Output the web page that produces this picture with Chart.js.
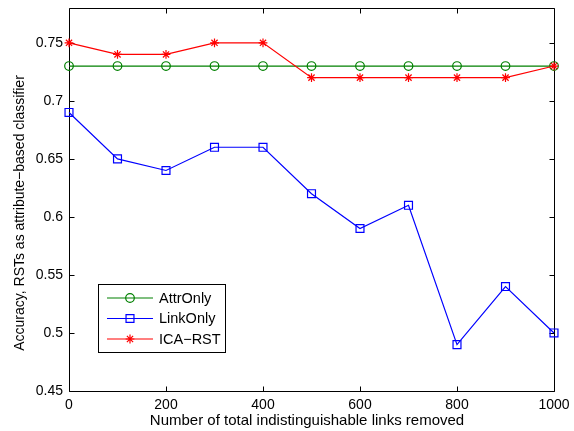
<!DOCTYPE html>
<html>
<head>
<meta charset="utf-8">
<script src="https://cdn.jsdelivr.net/npm/chart.js@4.4.1/dist/chart.umd.min.js"></script>
<style>
html, body { margin: 0; padding: 0; background: #fff; }
canvas { display: block; }
</style>
</head>
<body>
<canvas id="chart" width="574" height="431"></canvas>
<script>
// Data
const xVals = [0, 100, 200, 300, 400, 500, 600, 700, 800, 900, 1000];
const attrOnly = [0.73, 0.73, 0.73, 0.73, 0.73, 0.73, 0.73, 0.73, 0.73, 0.73, 0.73];
const linkOnly = [0.69, 0.65, 0.64, 0.66, 0.66, 0.62, 0.59, 0.61, 0.49, 0.54, 0.50];
const icaRst = [0.75, 0.74, 0.74, 0.75, 0.75, 0.72, 0.72, 0.72, 0.72, 0.72, 0.73];
const seriesNames = ['AttrOnly', 'LinkOnly', 'ICA\u2212RST'];
const xTicks = [0, 200, 400, 600, 800, 1000];
const yTicks = [0.45, 0.5, 0.55, 0.6, 0.65, 0.7, 0.75];
const xTitle = 'Number of total indistinguishable links removed';
const yTitle = 'Accuracy, RSTs as attribute\u2212based classifier';

const FONT = 'Liberation Sans, Arial, Helvetica, sans-serif';

function toPoints(vals) {
    return vals.map((v, i) => ({ x: xVals[i], y: v }));
}

function makeSeries(label, vals, color, style, radius, order) {
    return {
        label: label,
        data: toPoints(vals),
        borderColor: color,
        backgroundColor: color,
        borderWidth: 1.2,
        pointStyle: style,
        pointRadius: radius,
        pointBorderWidth: 1.2,
        pointBackgroundColor: 'rgba(0,0,0,0)',
        pointBorderColor: color,
        tension: 0,
        fill: false,
        clip: false,
        order: order
    };
}

// Box around the plot with inward tick marks on all four sides
const framePlugin = {
    id: 'frame',
    beforeDatasetsDraw(chart) {
        const { ctx, chartArea: a, scales } = chart;
        const L = Math.round(a.left) + 0.5, R = Math.round(a.right) + 0.5;
        const T = Math.round(a.top) + 0.5, B = Math.round(a.bottom) + 0.5;
        const len = 5;
        ctx.save();
        ctx.strokeStyle = '#000';
        ctx.lineWidth = 1;
        ctx.beginPath();
        ctx.rect(L, T, R - L, B - T);
        xTicks.forEach(v => {
            const px = Math.round(scales.x.getPixelForValue(v)) + 0.5;
            ctx.moveTo(px, B); ctx.lineTo(px, B - len);
            ctx.moveTo(px, T); ctx.lineTo(px, T + len);
        });
        yTicks.forEach(v => {
            const py = Math.round(scales.y.getPixelForValue(v)) + 0.5;
            ctx.moveTo(L, py); ctx.lineTo(L + len, py);
            ctx.moveTo(R, py); ctx.lineTo(R - len, py);
        });
        ctx.stroke();
        ctx.restore();
    }
};

// Axis titles
const titlePlugin = {
    id: 'titles',
    afterDraw(chart) {
        const ctx = chart.ctx;
        ctx.save();
        ctx.fillStyle = '#000';
        ctx.textAlign = 'center';
        ctx.textBaseline = 'middle';
        ctx.font = '15px ' + FONT;
        ctx.fillText(xTitle, 307, 421);
        ctx.font = '14px ' + FONT;
        ctx.translate(20, 213);
        ctx.rotate(-Math.PI / 2);
        ctx.fillText(yTitle, 0, 0);
        ctx.restore();
    }
};

// Legend box inside the lower-left of the plot
const legendPlugin = {
    id: 'boxLegend',
    afterDraw(chart) {
        const ctx = chart.ctx;
        const ds = chart.data.datasets;
        ctx.save();
        ctx.fillStyle = '#fff';
        ctx.strokeStyle = '#000';
        ctx.lineWidth = 1;
        ctx.fillRect(98.5, 284.5, 127, 68);
        ctx.strokeRect(98.5, 284.5, 127, 68);
        const rows = [298, 318.5, 339];
        ds.forEach((d, i) => {
            const y = rows[i];
            ctx.strokeStyle = d.borderColor;
            ctx.lineWidth = 1.2;
            ctx.beginPath();
            ctx.moveTo(107, y);
            ctx.lineTo(153, y);
            ctx.stroke();
            ctx.fillStyle = 'rgba(0,0,0,0)';
            Chart.helpers.drawPoint(ctx, {
                pointStyle: d.pointStyle,
                radius: d.pointRadius,
                rotation: 0,
                borderWidth: 1.2
            }, 130, y);
            ctx.fillStyle = '#000';
            ctx.font = '14.5px ' + FONT;
            ctx.textAlign = 'left';
            ctx.textBaseline = 'middle';
            ctx.fillText(d.label, 159, y + 0.5);
        });
        ctx.restore();
    }
};

new Chart(document.getElementById('chart'), {
    type: 'line',
    data: {
        datasets: [
            makeSeries(seriesNames[0], attrOnly, '#008000', 'circle', 4.3, 3),
            makeSeries(seriesNames[1], linkOnly, '#0000ff', 'rect', 5.6, 2),
            makeSeries(seriesNames[2], icaRst, '#ff0000', 'star', 4.4, 1)
        ]
    },
    options: {
        responsive: false,
        devicePixelRatio: 1,
        animation: false,
        layout: { padding: { top: 8, right: 20, left: 0, bottom: 0 } },
        plugins: {
            legend: { display: false },
            tooltip: { enabled: false }
        },
        scales: {
            x: {
                type: 'linear',
                min: 0,
                max: 1000,
                afterBuildTicks: s => { s.ticks = xTicks.map(v => ({ value: v })); },
                afterFit: s => { s.height = 40; s.paddingLeft = 0; s.paddingRight = 0; },
                grid: { display: false, drawTicks: false },
                border: { display: false },
                ticks: {
                    color: '#000',
                    font: { family: FONT, size: 14 },
                    padding: 6,
                    maxRotation: 0,
                    autoSkip: false,
                    callback: v => String(v)
                }
            },
            y: {
                type: 'linear',
                min: 0.45,
                max: 0.78,
                afterBuildTicks: s => { s.ticks = yTicks.map(v => ({ value: v })); },
                afterFit: s => { s.width = 69; s.paddingTop = 0; s.paddingBottom = 0; },
                grid: { display: false, drawTicks: false },
                border: { display: false },
                ticks: {
                    color: '#000',
                    font: { family: FONT, size: 14 },
                    padding: 6,
                    autoSkip: false,
                    callback: v => String(v)
                }
            }
        }
    },
    plugins: [framePlugin, titlePlugin, legendPlugin]
});
</script>
</body>
</html>
